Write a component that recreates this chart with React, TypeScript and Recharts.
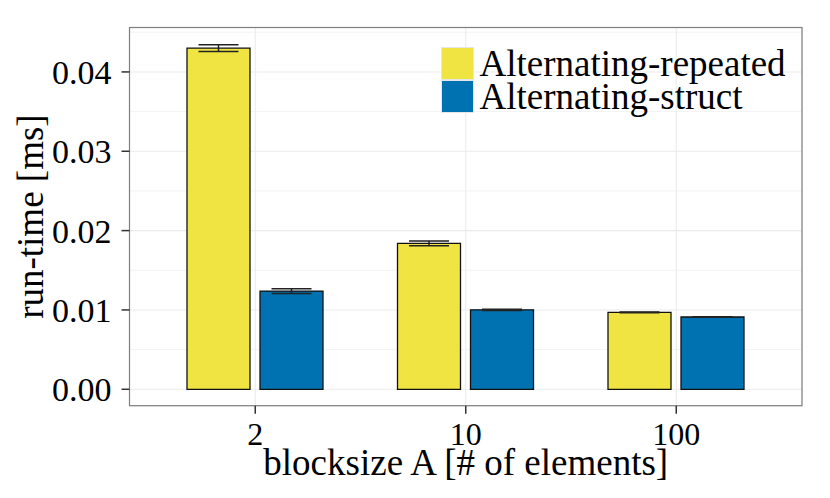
import React from 'react';
import {
  ComposedChart,
  Bar,
  XAxis,
  YAxis,
  CartesianGrid,
  ErrorBar,
  Legend,
  Label,
  usePlotArea,
} from 'recharts';

const categories = ['2', '10', '100'];
const repeatedValues = [0.043, 0.01839, 0.0097];
const repeatedErrors = [0.00042, 0.00029, 0.00005];
const structValues = [0.01238, 0.01002, 0.00911];
const structErrors = [0.0003, 0.00008, 0.00002];
const yTicks = [0, 0.01, 0.02, 0.03, 0.04];
const yMinorTicks = [0.005, 0.015, 0.025, 0.035, 0.045];
const yDomain: [number, number] = [-0.00207, 0.0456];

const data = categories.map((c, i) => ({
  cat: c,
  repeated: repeatedValues[i],
  repeatedErr: repeatedErrors[i],
  struct: structValues[i],
  structErr: structErrors[i],
}));

const FONT = 'Liberation Serif';
const BORDER = '#7f7f7f';

const PanelBorder = () => {
  const area = usePlotArea();
  if (!area) return null;
  return (
    <rect
      x={area.x}
      y={area.y}
      width={area.width}
      height={area.height}
      fill="none"
      stroke={BORDER}
      strokeWidth={1.2}
    />
  );
};

const YTitle = (props: any) => {
  const vb = props.viewBox || { x: 0, y: 0, width: 0, height: 0 };
  const cx = 34.7;
  const cy = vb.y + vb.height / 2;
  return (
    <text
      x={cx}
      y={cy}
      transform={`rotate(-90, ${cx}, ${cy})`}
      textAnchor="middle"
      fontFamily={FONT}
      style={{ fontFamily: FONT }}
      fontSize={37}
      fill="#000"
    >
      run-time [ms]
    </text>
  );
};

const XTitle = (props: any) => {
  const vb = props.viewBox || { x: 0, y: 0, width: 0, height: 0 };
  return (
    <text
      x={vb.x + vb.width / 2}
      y={vb.y + 69.3}
      textAnchor="middle"
      fontFamily={FONT}
      style={{ fontFamily: FONT }}
      fontSize={37}
      fill="#000"
    >
      blocksize A [# of elements]
    </text>
  );
};

const LegendContent = (props: any) => {
  const payload = props.payload || [];
  return (
    <div style={{ fontFamily: FONT }}>
      {payload.map((e: any) => (
        <div
          key={e.value}
          style={{ display: 'flex', alignItems: 'center', height: 33.3 }}
        >
          <div
            style={{
              width: 33.3,
              height: 33.3,
              background: e.color,
              boxSizing: 'border-box',
              border: '1px solid #e6e6e6',
              flex: 'none',
            }}
          />
          <span
            style={{
              marginLeft: 5.5,
              fontFamily: FONT,
              fontSize: 37,
              lineHeight: '33.3px',
              color: '#000',
              whiteSpace: 'nowrap',
            }}
          >
            {e.value}
          </span>
        </div>
      ))}
    </div>
  );
};

export default function App() {
  return (
    <ComposedChart
      width={822}
      height={490}
      data={data}
      margin={{ top: 19.5, right: 28, bottom: 12.3, left: 0 }}
      barSize={63}
      barGap={10}
      style={{ fontFamily: FONT }}
    >
      <CartesianGrid
        stroke="#f3f3f3"
        strokeWidth={1}
        vertical={false}
        horizontalValues={yMinorTicks}
      />
      <CartesianGrid stroke="#ebebeb" strokeWidth={1.1} />
      <XAxis
        dataKey="cat"
        padding={{ left: 20.5, right: 20.5 }}
        axisLine={false}
        tickLine={{ stroke: '#333', strokeWidth: 1.5 }}
        tickSize={8}
        tickMargin={8.6}
        height={80}
        tick={{ fontFamily: FONT, fontSize: 32, fill: '#000' }}
        interval={0}
      >
        <Label content={XTitle} />
      </XAxis>
      <YAxis
        type="number"
        domain={yDomain}
        allowDataOverflow
        ticks={yTicks}
        tickFormatter={(v: number) => v.toFixed(2)}
        axisLine={false}
        tickLine={{ stroke: '#333', strokeWidth: 1.5 }}
        tickSize={8}
        tickMargin={10}
        width={121.5}
        tick={{ fontFamily: FONT, fontSize: 34, fill: '#000' }}
      >
        <Label content={YTitle} />
      </YAxis>
      <Legend
        layout="vertical"
        align="center"
        verticalAlign="middle"
        wrapperStyle={{ top: 38.7, left: 432.7, width: 380 }}
        content={LegendContent}
      />
      <Bar
        dataKey="repeated"
        name="Alternating-repeated"
        fill="#F0E442"
        stroke="#111"
        strokeWidth={1.3}
        isAnimationActive={false}
      >
        <ErrorBar dataKey="repeatedErr" width={20} stroke="#222" strokeWidth={1.5} />
      </Bar>
      <Bar
        dataKey="struct"
        name="Alternating-struct"
        fill="#0072B2"
        stroke="#111"
        strokeWidth={1.3}
        isAnimationActive={false}
      >
        <ErrorBar dataKey="structErr" width={20} stroke="#222" strokeWidth={1.5} />
      </Bar>
      <PanelBorder />
    </ComposedChart>
  );
}
